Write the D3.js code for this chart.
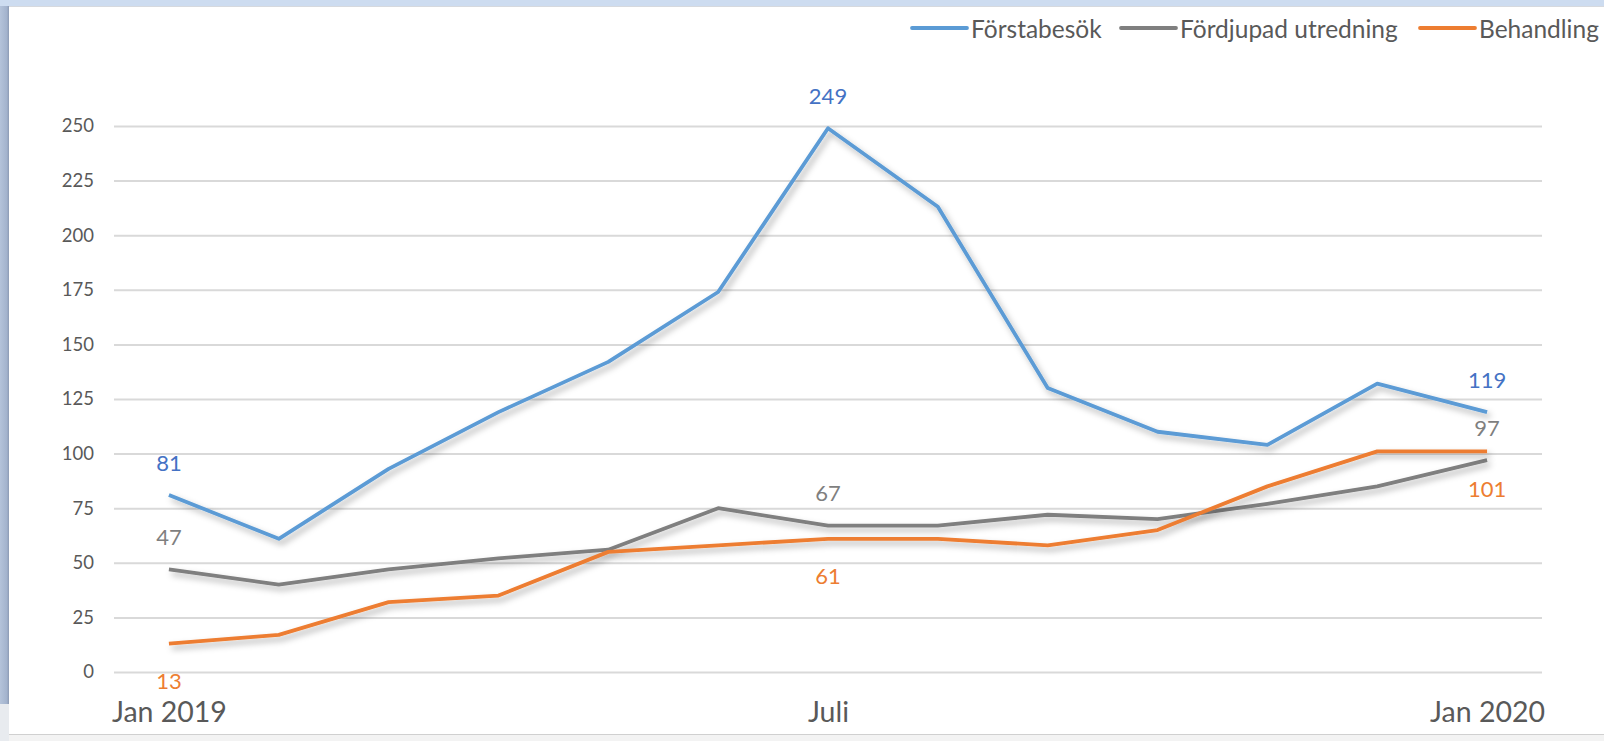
<!DOCTYPE html>
<html>
<head>
<meta charset="utf-8">
<script src="https://cdn.jsdelivr.net/npm/d3@7"></script>
<style>
  body { margin: 0; background: #fff; }
  svg { display: block; font-family: Lato, "Open Sans", sans-serif; }
</style>
</head>
<body>
<svg width="1604" height="741"></svg>
<script>
// months Jan 2019 .. Jan 2020
let months = ["Jan 2019", "Feb", "Mar", "Apr", "Maj", "Jun", "Juli", "Aug", "Sep", "Okt", "Nov", "Dec", "Jan 2020"];
let axisLabels = ["Jan 2019", "Juli", "Jan 2020"];
let yTicks = [0, 25, 50, 75, 100, 125, 150, 175, 200, 225, 250];

let seriesNames = ["Förstabesök", "Fördjupad utredning", "Behandling"];
let forstabesok = [81, 61, 93, 119, 142, 174, 249, 213, 130, 110, 104, 132, 119];
let fordjupad = [47, 40, 47, 52, 56, 75, 67, 67, 72, 70, 77, 85, 97];
let behandling = [13, 17, 32, 35, 55, 58, 61, 61, 58, 65, 85, 101, 101];
// which points carry a data label
let labelled = ["Jan 2019", "Juli", "Jan 2020"];

let lineColors = ["#5b9bd5", "#7f7f7f", "#ed7d31"];
let labelColors = ["#4472c4", "#7f7f7f", "#ed7d31"];

let svg = d3.select("svg");
let width = +svg.attr("width");
let height = +svg.attr("height");

// window frame bits around the chart area
svg.append("rect").attr("x", 0).attr("y", 0).attr("width", width).attr("height", 6).attr("fill", "#cddcf0");
svg.append("rect").attr("x", 0).attr("y", 6).attr("width", width).attr("height", 1).attr("fill", "#d6d9de");
let grad = svg.append("defs").append("linearGradient").attr("id", "leftEdge");
grad.append("stop").attr("offset", "0%").attr("stop-color", "#b4c3da");
grad.append("stop").attr("offset", "75%").attr("stop-color", "#a3b3cd");
grad.append("stop").attr("offset", "100%").attr("stop-color", "#8c9bb4");
svg.append("rect").attr("x", 0).attr("y", 6).attr("width", 9).attr("height", 698).attr("fill", "url(#leftEdge)");
svg.append("rect").attr("x", 0).attr("y", 704).attr("width", 9).attr("height", 37).attr("fill", "#e8ebef");
svg.append("rect").attr("x", 9).attr("y", 734).attr("width", width - 9).attr("height", 1).attr("fill", "#d0d0d0");
svg.append("rect").attr("x", 9).attr("y", 735).attr("width", width - 9).attr("height", 6).attr("fill", "#f3f3f3");

let shadow = svg.select("defs").append("filter").attr("id", "shadow")
    .attr("x", "-5%").attr("y", "-10%").attr("width", "110%").attr("height", "130%");
shadow.append("feDropShadow").attr("dx", 3).attr("dy", 4).attr("stdDeviation", 3)
    .attr("flood-color", "#000").attr("flood-opacity", 0.3);

let x = d3.scalePoint().domain(months).range([114, 1542]).padding(0.5);
let y = d3.scaleLinear().domain([0, 250]).range([672, 126]);

// gridlines + y labels
let yAxis = svg.append("g")
    .attr("transform", "translate(114,0)")
    .call(d3.axisLeft(y).tickValues(yTicks).tickSize(-(1542 - 114)).tickPadding(20));
yAxis.select(".domain").remove();
yAxis.selectAll(".tick line").attr("stroke", "#d9d9d9").attr("stroke-width", 2);
yAxis.selectAll(".tick text").attr("fill", "#595959").attr("font-size", 18.5)
    .attr("font-family", "Lato, sans-serif");

// x labels
let xAxis = svg.append("g")
    .attr("transform", "translate(0,672)")
    .call(d3.axisBottom(x).tickValues(axisLabels).tickSize(0).tickPadding(30));
xAxis.select(".domain").remove();
xAxis.selectAll(".tick text").attr("fill", "#595959").attr("font-size", 28.5)
    .attr("font-family", "Lato, sans-serif");

let series = [forstabesok, fordjupad, behandling];
let line = d3.line().x((d, i) => x(months[i])).y((d) => y(d));

svg.append("g")
    .selectAll("path")
    .data(series)
    .enter()
    .append("path")
    .attr("d", line)
    .attr("fill", "none")
    .attr("stroke", (d, i) => lineColors[i])
    .attr("stroke-width", 3.8)
    .attr("stroke-linejoin", "round")
    .attr("filter", "url(#shadow)");

// data labels: first two series above, Behandling below
let labelData = [];
series.forEach((vals, s) => {
    vals.forEach((v, i) => {
        if (labelled.includes(months[i])) labelData.push({ s: s, m: months[i], v: v });
    });
});
svg.append("g")
    .selectAll("text")
    .data(labelData)
    .enter()
    .append("text")
    .attr("x", (d) => x(d.m))
    .attr("y", (d) => y(d.v) + (d.s === 2 ? 37 : -33))
    .attr("text-anchor", "middle")
    .attr("dominant-baseline", "central")
    .attr("font-size", 22)
    .attr("fill", (d) => labelColors[d.s])
    .text((d) => d.v);

// legend, top right
let legendX = [912, 1121, 1420];
let legend = svg.append("g")
    .selectAll("g")
    .data(seriesNames)
    .enter()
    .append("g")
    .attr("transform", (d, i) => `translate(${legendX[i]},28)`);
legend.append("line")
    .attr("x1", 0).attr("x2", 55)
    .attr("stroke", (d, i) => lineColors[i])
    .attr("stroke-width", 3.8)
    .attr("stroke-linecap", "round");
legend.append("text")
    .attr("x", 59)
    .attr("dominant-baseline", "central")
    .attr("font-size", 24.5)
    .attr("fill", "#595959")
    .text((d) => d);
</script>
</body>
</html>
